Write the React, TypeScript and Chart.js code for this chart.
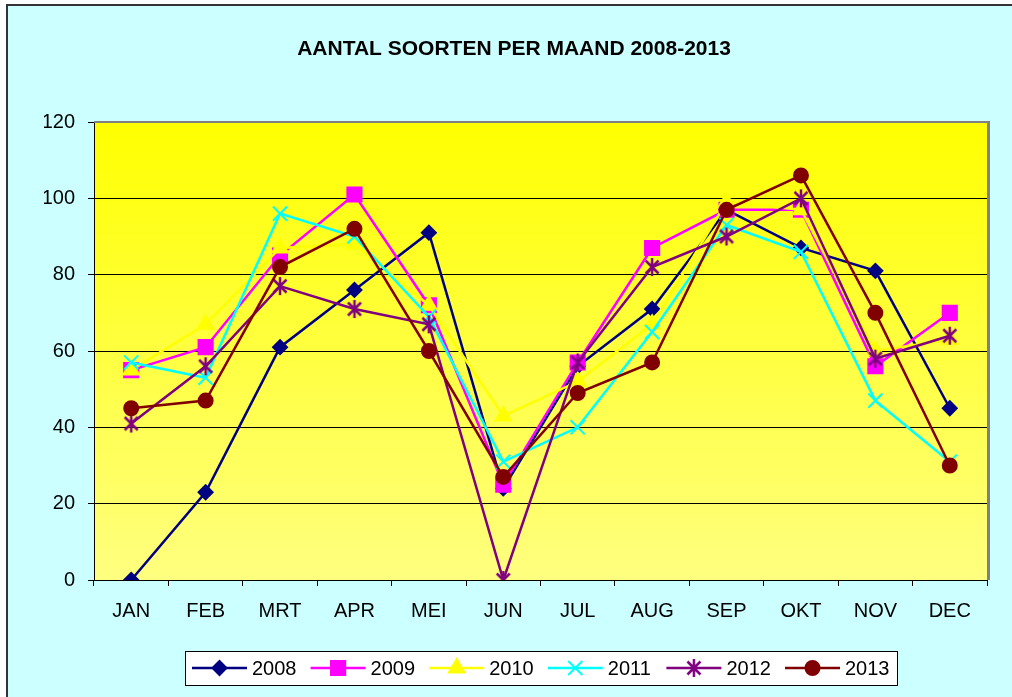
import React, { useEffect, useRef } from 'react';
import { Chart, registerables } from 'chart.js';
import { drawPoint } from 'chart.js/helpers';

Chart.register(...registerables);

const titleText = 'AANTAL SOORTEN PER MAAND 2008-2013';
const months = ['JAN', 'FEB', 'MRT', 'APR', 'MEI', 'JUN', 'JUL', 'AUG', 'SEP', 'OKT', 'NOV', 'DEC'];
const years = ['2008', '2009', '2010', '2011', '2012', '2013'];

const values2008 = [0, 23, 61, 76, 91, 24, 56, 71, 97, 87, 81, 45];
const values2009 = [55, 61, 85, 101, 72, 25, 57, 87, 97, 97, 56, 70];
const values2010 = [55, 67, 87, 88, 72, 43, 52, 67, 99, 97, 60, 63];
const values2011 = [57, 53, 96, 90, 69, 31, 40, 65, 93, 86, 47, 31];
const values2012 = [41, 56, 77, 71, 67, 0, 57, 82, 90, 100, 58, 64];
const values2013 = [45, 47, 82, 92, 60, 27, 49, 57, 97, 106, 70, 30];

const seriesValues = [values2008, values2009, values2010, values2011, values2012, values2013];
const seriesColors = ['#000080', '#FF00FF', '#FFFF00', '#00FFFF', '#800080', '#800000'];
const seriesMarkers = ['rectRot', 'rect', 'triangle', 'crossRot', 'asterisk', 'circle'];
const markerRadii = [7, 10, 9, 10, 8, 7];

const yMin = 0;
const yMax = 120;
const yStep = 20;

const FONT = '"Liberation Sans", Arial, sans-serif';

function makeAsterisk(color: string): HTMLCanvasElement {
  const c = document.createElement('canvas');
  c.width = 20;
  c.height = 20;
  const ctx = c.getContext('2d')!;
  ctx.strokeStyle = color;
  ctx.lineWidth = 2.5;
  ctx.lineCap = 'butt';
  ctx.beginPath();
  ctx.moveTo(3.5, 3.5);
  ctx.lineTo(16.5, 16.5);
  ctx.moveTo(16.5, 3.5);
  ctx.lineTo(3.5, 16.5);
  ctx.moveTo(10, 1);
  ctx.lineTo(10, 19);
  ctx.stroke();
  return c;
}

export default function App() {
  const canvasRef = useRef<HTMLCanvasElement | null>(null);

  useEffect(() => {
    const canvas = canvasRef.current;
    if (!canvas) return;

    const styles: any[] = seriesMarkers.map((m, i) => (m === 'asterisk' ? makeAsterisk(seriesColors[i]) : m));

    const decor = {
      id: 'decor',
      beforeDraw(chart: any) {
        const ctx = chart.ctx;
        const { left, right, top, bottom } = chart.chartArea;
        ctx.save();
        ctx.fillStyle = '#FFFFFF';
        ctx.fillRect(0, 0, chart.width, chart.height);
        ctx.fillStyle = '#CCFFFF';
        ctx.fillRect(7, 5, chart.width, chart.height);
        ctx.strokeStyle = '#333333';
        ctx.lineWidth = 2;
        ctx.beginPath();
        ctx.moveTo(7, chart.height + 5);
        ctx.lineTo(7, 5);
        ctx.lineTo(chart.width + 5, 5);
        ctx.stroke();
        const g = ctx.createLinearGradient(0, top, 0, bottom);
        g.addColorStop(0, '#FFFF00');
        g.addColorStop(1, '#FFFF80');
        ctx.fillStyle = g;
        ctx.fillRect(left, top, right - left, bottom - top);
        ctx.restore();
      },
      beforeDatasetsDraw(chart: any) {
        const ctx = chart.ctx;
        const { left, right, top, bottom } = chart.chartArea;
        ctx.save();
        ctx.strokeStyle = '#808080';
        ctx.lineWidth = 2;
        ctx.beginPath();
        ctx.moveTo(left, top);
        ctx.lineTo(right + 3, top);
        ctx.stroke();
        ctx.lineWidth = 3;
        ctx.beginPath();
        ctx.moveTo(right + 1.5, top - 1);
        ctx.lineTo(right + 1.5, bottom);
        ctx.stroke();
        ctx.restore();
      },
      afterDraw(chart: any) {
        const ctx = chart.ctx;
        ctx.save();
        ctx.fillStyle = '#000';
        ctx.font = `bold 21px ${FONT}`;
        ctx.textAlign = 'center';
        ctx.textBaseline = 'middle';
        ctx.fillText(titleText, 514, 49);
        ctx.fillStyle = '#FFFFFF';
        ctx.fillRect(185, 651, 712, 34);
        ctx.strokeStyle = '#000';
        ctx.lineWidth = 1;
        ctx.strokeRect(185.5, 651.5, 712, 34);
        const cy = 668;
        years.forEach((y, i) => {
          const x0 = 192 + i * 118.6;
          ctx.strokeStyle = seriesColors[i];
          ctx.lineWidth = 2.5;
          ctx.beginPath();
          ctx.moveTo(x0, cy);
          ctx.lineTo(x0 + 55, cy);
          ctx.stroke();
          ctx.fillStyle = seriesColors[i];
          ctx.lineWidth = 2;
          drawPoint(ctx, { pointStyle: styles[i], rotation: 0, radius: markerRadii[i], borderWidth: 2 } as any, x0 + 27.5, cy);
          ctx.fillStyle = '#000';
          ctx.font = `20px ${FONT}`;
          ctx.textAlign = 'left';
          ctx.textBaseline = 'middle';
          ctx.fillText(y, x0 + 60, cy + 1);
        });
        ctx.restore();
      },
    };

    const chart = new Chart(canvas, {
      type: 'line',
      data: {
        labels: months,
        datasets: years.map((y, i) => ({
          label: y,
          data: seriesValues[i],
          borderColor: seriesColors[i],
          backgroundColor: seriesColors[i],
          borderWidth: 2.5,
          pointStyle: styles[i],
          pointRadius: markerRadii[i],
          pointBorderWidth: 2,
          pointBackgroundColor: seriesColors[i],
          pointBorderColor: seriesColors[i],
          tension: 0,
          fill: false,
          order: years.length - 1 - i,
        })),
      },
      options: {
        animation: false,
        responsive: false,
        devicePixelRatio: 1,
        layout: { padding: { left: 44, right: 25, top: 122, bottom: 77 } },
        plugins: {
          legend: { display: false },
          title: { display: false },
          tooltip: { enabled: false },
        },
        scales: {
          x: {
            offset: true,
            grid: {
              display: true,
              drawOnChartArea: false,
              drawTicks: true,
              tickLength: 6,
              color: '#000',
              offset: true,
            },
            border: { display: true, color: '#000', width: 1 },
            ticks: {
              color: '#000',
              font: { family: FONT, size: 20 },
              padding: 13,
              maxRotation: 0,
              autoSkip: false,
            },
            afterFit: (s: any) => {
              s.height = 40;
            },
          },
          y: {
            min: yMin,
            max: yMax,
            grid: { color: '#000', lineWidth: 1, drawTicks: true, tickLength: 6 },
            border: { display: true, color: '#000', width: 1 },
            ticks: {
              stepSize: yStep,
              color: '#000',
              font: { family: FONT, size: 20 },
              padding: 13,
            },
            afterFit: (s: any) => {
              s.width = 50;
            },
          },
        },
      },
      plugins: [decor],
    });

    return () => chart.destroy();
  }, []);

  return (
    <div style={{ position: 'absolute', left: 0, top: 0, width: 1012, height: 697 }}>
      <canvas ref={canvasRef} width={1012} height={697} style={{ display: 'block', width: 1012, height: 697 }} />
    </div>
  );
}
